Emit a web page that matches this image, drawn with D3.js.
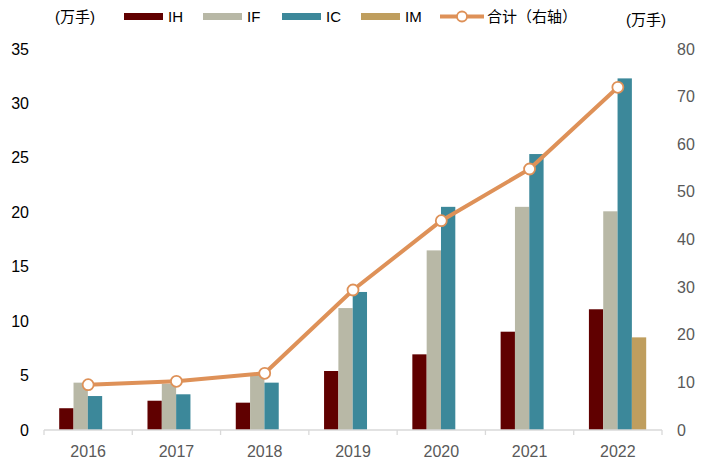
<!DOCTYPE html>
<html>
<head>
<meta charset="utf-8">
<script src="https://cdn.jsdelivr.net/npm/d3@7"></script>
<style>
  html, body { margin: 0; padding: 0; background: #fff; }
  svg { display: block; }
  text { font-family: Arial, "Liberation Sans", "Noto Sans CJK SC", sans-serif; }
</style>
</head>
<body>
<svg id="chart" width="705" height="470"></svg>
<script>
const years = ["2016", "2017", "2018", "2019", "2020", "2021", "2022"];
const seriesNames = ["IH", "IF", "IC", "IM"];
const IH = [2.0, 2.69, 2.51, 5.42, 6.95, 9.03, 11.09];
const IF = [4.35, 4.25, 5.04, 11.2, 16.5, 20.5, 20.09];
const IC = [3.12, 3.28, 4.35, 12.68, 20.5, 25.35, 32.3];
const IM = [0, 0, 0, 0, 0, 0, 8.51];
const total = [9.52, 10.22, 11.9, 29.4, 43.95, 54.8, 71.96];
const leftTicks = [0, 5, 10, 15, 20, 25, 30, 35];
const rightTicks = [0, 10, 20, 30, 40, 50, 60, 70, 80];
const colors = {IH: "#600000", IF: "#B8B8A6", IC: "#3C889A", IM: "#BF9E5E"};
const lineColor = "#DE9158";
const seriesData = {IH, IF, IC, IM};

const svg = d3.select("#chart");
const plotLeft = 44, plotRight = 662, plotTop = 49, plotBottom = 430;

const x = d3.scaleBand().domain(years).range([plotLeft, plotRight]).padding(0);
const xi = d3.scaleBand().domain(seriesNames).range([15.2, x.bandwidth() - 15.8]).padding(0);
const yL = d3.scaleLinear().domain([0, 35]).range([plotBottom, plotTop]);
const yR = d3.scaleLinear().domain([0, 80]).range([plotBottom, plotTop]);

// bars
seriesNames.forEach(s => {
  svg.append("g").selectAll("rect")
    .data(years.map((yr, i) => ({yr, v: seriesData[s][i]})).filter(d => d.v > 0))
    .join("rect")
    .attr("x", d => x(d.yr) + xi(s))
    .attr("width", xi.bandwidth())
    .attr("y", d => yL(d.v))
    .attr("height", d => yL(0) - yL(d.v))
    .attr("fill", colors[s]);
});

// x axis
const xAxis = svg.append("g").attr("transform", `translate(0,${plotBottom})`);
xAxis.append("line").attr("x1", plotLeft).attr("x2", plotRight).attr("y1", 0).attr("y2", 0)
  .attr("stroke", "#D9D9D9").attr("stroke-width", 1.3);
const boundaries = years.map(y => x(y)).concat([plotRight]);
xAxis.selectAll("line.tk").data(boundaries).join("line").attr("class", "tk")
  .attr("x1", d => d).attr("x2", d => d).attr("y1", 0).attr("y2", 5)
  .attr("stroke", "#D9D9D9").attr("stroke-width", 1.3);
xAxis.selectAll("text").data(years).join("text")
  .attr("x", d => x(d) + x.bandwidth() / 2).attr("y", 27)
  .attr("text-anchor", "middle").attr("font-size", 16).attr("fill", "#595959")
  .text(d => d);

// left axis labels
svg.append("g").selectAll("text").data(leftTicks).join("text")
  .attr("x", 29).attr("y", d => yL(d)).attr("dy", "0.35em")
  .attr("text-anchor", "end").attr("font-size", 16).attr("fill", "#000")
  .text(d => d);

// right axis labels
svg.append("g").selectAll("text").data(rightTicks).join("text")
  .attr("x", 677).attr("y", d => yR(d)).attr("dy", "0.35em")
  .attr("text-anchor", "start").attr("font-size", 16).attr("fill", "#595959")
  .text(d => d);

// line
const line = d3.line().x((d, i) => x(years[i]) + x.bandwidth() / 2).y(d => yR(d));
svg.append("path").datum(total).attr("d", line)
  .attr("fill", "none").attr("stroke", lineColor).attr("stroke-width", 4)
  .attr("stroke-linejoin", "round");
svg.append("g").selectAll("circle").data(total).join("circle")
  .attr("cx", (d, i) => x(years[i]) + x.bandwidth() / 2).attr("cy", d => yR(d))
  .attr("r", 5.5).attr("fill", "#fff").attr("stroke", lineColor).attr("stroke-width", 1.8);

// unit labels
svg.append("text").attr("x", 55).attr("y", 17).attr("dy", "0.35em")
  .attr("font-size", 15).attr("fill", "#000").text("(万手)");
svg.append("text").attr("x", 626).attr("y", 20).attr("dy", "0.35em")
  .attr("font-size", 15).attr("fill", "#000").text("(万手)");

// legend
const legend = svg.append("g");
const legX = [124, 203, 282, 361];
seriesNames.forEach((s, i) => {
  legend.append("rect").attr("x", legX[i]).attr("y", 13).attr("width", 39).attr("height", 7)
    .attr("fill", colors[s]);
  legend.append("text").attr("x", legX[i] + 44).attr("y", 16.5).attr("dy", "0.35em")
    .attr("font-size", 15).attr("fill", "#000").text(s);
});
legend.append("line").attr("x1", 440).attr("x2", 484).attr("y1", 16.5).attr("y2", 16.5)
  .attr("stroke", lineColor).attr("stroke-width", 4);
legend.append("circle").attr("cx", 462).attr("cy", 16.5).attr("r", 5)
  .attr("fill", "#fff").attr("stroke", lineColor).attr("stroke-width", 1.8);
legend.append("text").attr("x", 487).attr("y", 16.5).attr("dy", "0.35em")
  .attr("font-size", 15).attr("fill", "#000").text("合计（右轴）");
</script>
</body>
</html>
